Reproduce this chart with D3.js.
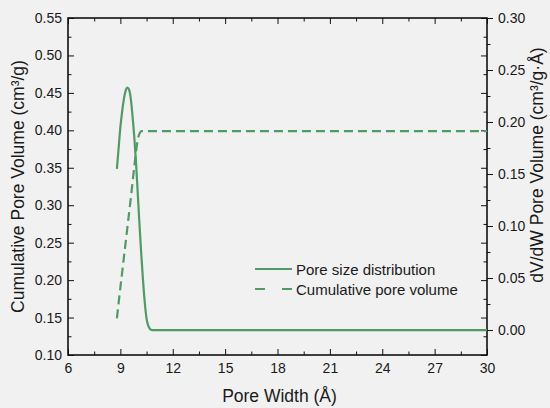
<!DOCTYPE html>
<html>
<head>
<meta charset="utf-8">
<script src="https://cdn.jsdelivr.net/npm/d3@7"></script>
<style>
  body { margin: 0; background: #f1f1f1; }
  svg { display: block; font-family: "Liberation Sans", Arial, sans-serif; }
  .axis path, .axis line { stroke: #111; }
  .axis text { font-size: 14px; fill: #1a1a1a; }
  .title { font-size: 17.5px; fill: #1a1a1a; }
  .legend text { font-size: 15px; fill: #1a1a1a; }
</style>
</head>
<body>
<div id="chart"></div>
<script>
// pore size distribution (right axis)
var psdWidth = [8.8, 8.9, 9.0, 9.1, 9.2, 9.3, 9.4, 9.5, 9.6, 9.7, 9.8, 9.9, 10.0, 10.1, 10.2, 10.3, 10.4, 10.5, 10.6, 10.7, 10.8, 30];
var psdValue = [0.155, 0.175, 0.195, 0.210, 0.222, 0.230, 0.233, 0.231, 0.222, 0.205, 0.185, 0.160, 0.130, 0.100, 0.072, 0.047, 0.026, 0.011, 0.004, 0.001, 0.0, 0.0];

// cumulative pore volume (left axis)
var cumWidth = [8.8, 9.0, 9.2, 9.4, 9.6, 9.8, 9.9, 10.0, 10.1, 10.2, 30];
var cumValue = [0.149, 0.19, 0.23, 0.27, 0.31, 0.352, 0.372, 0.388, 0.396, 0.399, 0.399];

var xTicks = [6, 9, 12, 15, 18, 21, 24, 27, 30];
var leftTicks = [0.10, 0.15, 0.20, 0.25, 0.30, 0.35, 0.40, 0.45, 0.50, 0.55];
var rightTicks = [0.00, 0.05, 0.10, 0.15, 0.20, 0.25, 0.30];
var legendLabels = ["Pore size distribution", "Cumulative pore volume"];

var margin = { top: 18, right: 63, bottom: 53, left: 68 };
var width = 550 - margin.left - margin.right,
    height = 408 - margin.top - margin.bottom;

var green = "#4f9b63";

var svg = d3.select("#chart").append("svg")
    .attr("width", 550)
    .attr("height", 408);

var g = svg.append("g")
    .attr("transform", "translate(" + margin.left + "," + margin.top + ")");

var x = d3.scaleLinear().domain([6, 30]).range([0, width]);
var yL = d3.scaleLinear().domain([0.10, 0.55]).range([height, 0]);
var yR = d3.scaleLinear().domain([-0.024, 0.30]).range([height, 0]);

var fmt2 = d3.format(".2f");

function minor(ticks, step) {
    var out = [];
    for (var i = 0; i < ticks.length - 1; i++) out.push(ticks[i] + step / 2);
    return out;
}

// minor ticks first
g.append("g").attr("class", "axis")
    .attr("transform", "translate(0," + height + ")")
    .call(d3.axisBottom(x).tickValues(minor(xTicks, 3)).tickSize(-3.5).tickFormat(""));
g.append("g").attr("class", "axis")
    .call(d3.axisTop(x).tickValues(minor(xTicks, 3)).tickSize(-3.5).tickFormat(""));
g.append("g").attr("class", "axis")
    .call(d3.axisLeft(yL).tickValues(minor(leftTicks, 0.05)).tickSize(-3.5).tickFormat(""));
g.append("g").attr("class", "axis")
    .attr("transform", "translate(" + width + ",0)")
    .call(d3.axisLeft(yL).tickValues(minor(leftTicks, 0.05)).tickSize(3.5).tickFormat(""));
g.append("g").attr("class", "axis")
    .attr("transform", "translate(" + width + ",0)")
    .call(d3.axisRight(yR).tickValues(minor(rightTicks, 0.05)).tickSize(3.5).tickFormat(""));

// major ticks
g.append("g").attr("class", "axis")
    .attr("transform", "translate(0," + height + ")")
    .call(d3.axisBottom(x).tickValues(xTicks).tickSize(-6).tickPadding(8).tickFormat(d3.format("d")));
g.append("g").attr("class", "axis")
    .call(d3.axisTop(x).tickValues(xTicks).tickSize(-6).tickFormat(""));
g.append("g").attr("class", "axis")
    .call(d3.axisLeft(yL).tickValues(leftTicks).tickSize(-6).tickPadding(6).tickFormat(fmt2));
g.append("g").attr("class", "axis")
    .attr("transform", "translate(" + width + ",0)")
    .call(d3.axisLeft(yL).tickValues(leftTicks).tickSize(6).tickFormat(""));
g.append("g").attr("class", "axis")
    .attr("transform", "translate(" + width + ",0)")
    .call(d3.axisRight(yR).tickValues(rightTicks).tickSize(6).tickPadding(5).tickFormat(fmt2));

// frame
g.append("rect")
    .attr("width", width)
    .attr("height", height)
    .attr("fill", "none")
    .attr("stroke", "#111")
    .attr("stroke-width", 1.6);

g.selectAll(".domain").remove();

var psdLine = d3.line()
    .x(function(d, i) { return x(psdWidth[i]); })
    .y(function(d) { return yR(d); })
    .curve(d3.curveMonotoneX);

var cumLine = d3.line()
    .x(function(d, i) { return x(cumWidth[i]); })
    .y(function(d) { return yL(d); })
    .curve(d3.curveMonotoneX);

g.append("path")
    .attr("d", psdLine(psdValue))
    .attr("fill", "none")
    .attr("stroke", green)
    .attr("stroke-width", 2.2);

g.append("path")
    .attr("d", cumLine(cumValue))
    .attr("fill", "none")
    .attr("stroke", green)
    .attr("stroke-width", 2.2)
    .attr("stroke-dasharray", "9,5");

// axis titles
svg.append("text")
    .attr("class", "title")
    .attr("x", margin.left + width / 2 + 2)
    .attr("y", 402)
    .attr("text-anchor", "middle")
    .text("Pore Width (Å)");

svg.append("text")
    .attr("class", "title")
    .attr("transform", "translate(24," + (margin.top + height / 2) + ") rotate(-90)")
    .attr("text-anchor", "middle")
    .text("Cumulative Pore Volume (cm³/g)");

svg.append("text")
    .attr("class", "title")
    .attr("transform", "translate(543,165) rotate(-90)")
    .attr("text-anchor", "middle")
    .text("dV/dW Pore Volume (cm³/g·Å)");

// legend
var legend = svg.append("g").attr("class", "legend")
    .attr("transform", "translate(255,269)");

legend.selectAll("line")
    .data(legendLabels)
    .enter().append("line")
    .attr("x1", 0).attr("x2", 37)
    .attr("y1", function(d, i) { return i * 20; })
    .attr("y2", function(d, i) { return i * 20; })
    .attr("stroke", green)
    .attr("stroke-width", 2.2)
    .attr("stroke-dasharray", function(d, i) { return i ? "10,17" : null; });

legend.selectAll("text")
    .data(legendLabels)
    .enter().append("text")
    .attr("x", 41)
    .attr("y", function(d, i) { return i * 20 + 5.5; })
    .text(function(d) { return d; });
</script>
</body>
</html>
